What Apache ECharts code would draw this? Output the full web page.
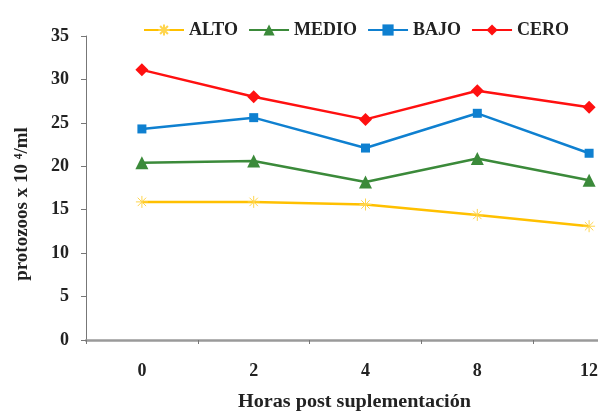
<!DOCTYPE html>
<html>
<head>
<meta charset="utf-8">
<script src="https://cdn.jsdelivr.net/npm/echarts@6/dist/echarts.min.js"></script>
<style>
html,body{margin:0;padding:0;background:#fff;}
#main{width:598px;height:412px;}
</style>
</head>
<body>
<div id="main"></div>
<script>
const categories = ['0', '2', '4', '8', '12'];
const alto  = [15.9, 15.9, 15.6, 14.4, 13.1];
const medio = [20.4, 20.6, 18.2, 20.9, 18.4];
const bajo  = [24.3, 25.6, 22.1, 26.1, 21.5];
const cero  = [31.1, 28.0, 25.4, 28.7, 26.8];
const yTicks = [0, 5, 10, 15, 20, 25, 30, 35];

const serif = '"Liberation Serif", "Times New Roman", serif';
const star = 'path://M0,-6L0,6M-6,0L6,0M-4.2,-4.2L4.2,4.2M-4.2,4.2L4.2,-4.2';

const chart = echarts.init(document.getElementById('main'), null, {renderer: 'canvas'});
chart.setOption({
  animation: false,
  backgroundColor: '#ffffff',
  legend: {
    left: 138, top: 16,
    itemWidth: 40, itemHeight: 14, itemGap: 10,
    textStyle: {fontFamily: serif, fontWeight: 'bold', fontSize: 18, color: '#222'},
    data: ['ALTO', 'MEDIO', 'BAJO', 'CERO']
  },
  grid: {left: 86, right: -47, top: 36, bottom: 72, containLabel: false, outerBoundsMode: 'none'},
  xAxis: {
    type: 'category',
    data: categories,
    boundaryGap: true,
    axisLine: {lineStyle: {color: '#9a9a9a', width: 2.5}},
    axisTick: {show: true, inside: false, length: 4, lineStyle: {color: '#777', width: 1}},
    axisLabel: {margin: 22, fontFamily: serif, fontWeight: 'bold', fontSize: 18, color: '#222'},
    splitLine: {show: false}
  },
  yAxis: {
    type: 'value',
    min: 0, max: 35, interval: 5,
    name: 'protozoos x 10 \u2074/ml',
    nameLocation: 'middle',
    nameGap: 54,
    nameRotate: 90,
    nameTextStyle: {fontFamily: serif, fontWeight: 'bold', fontSize: 19, color: '#222', padding: [0, 32, 0, 0]},
    axisLine: {show: true, lineStyle: {color: '#777', width: 1}},
    axisTick: {show: true, inside: false, length: 5, lineStyle: {color: '#777'}},
    axisLabel: {margin: 17, fontFamily: serif, fontWeight: 'bold', fontSize: 18, color: '#222',
      formatter: v => yTicks.includes(v) ? String(v) : ''},
    splitLine: {show: false}
  },
  graphic: [{
    type: 'text', x: 238, y: 393, scaleX: 1.12,
    style: {text: 'Horas post suplementación', font: 'bold 18px ' + serif, fill: '#222',
      textAlign: 'left', textVerticalAlign: 'top'}
  }],
  series: [
    {name: 'ALTO', type: 'line', data: alto, symbol: star, symbolSize: 12,
      lineStyle: {color: '#ffc000', width: 2.5},
      itemStyle: {color: '#ffd54d', borderColor: '#ffd54d', borderWidth: 1}},
    {name: 'MEDIO', type: 'line', data: medio, symbol: 'triangle', symbolSize: 13,
      lineStyle: {color: '#3b8a3a', width: 2.5},
      itemStyle: {color: '#3b8a3a'}},
    {name: 'BAJO', type: 'line', data: bajo, symbol: 'rect', symbolSize: 9,
      lineStyle: {color: '#0f80d0', width: 2.5},
      itemStyle: {color: '#0f80d0'}},
    {name: 'CERO', type: 'line', data: cero, symbol: 'diamond', symbolSize: 13,
      lineStyle: {color: '#ff1010', width: 2.5},
      itemStyle: {color: '#ff1010'}}
  ]
});
</script>
</body>
</html>
